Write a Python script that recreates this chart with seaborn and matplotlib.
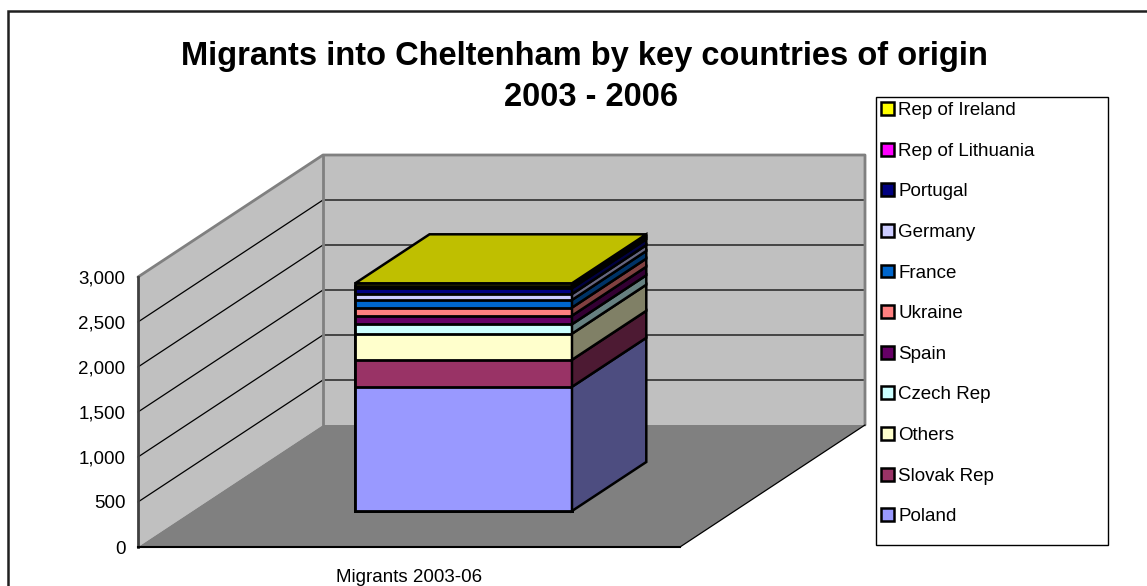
import numpy as np
import pandas as pd
import matplotlib
matplotlib.use("Agg")
import matplotlib.pyplot as plt
import seaborn as sns
from matplotlib.patches import Polygon, Patch, Rectangle
from matplotlib.transforms import Affine2D
from matplotlib.ticker import FuncFormatter

# ---- data (bottom to top of the stack) ----
category = "Migrants 2003-06"
countries = ["Poland", "Slovak Rep", "Others", "Czech Rep", "Spain", "Ukraine",
             "France", "Germany", "Portugal", "Rep of Lithuania", "Rep of Ireland"]
values = [1380, 300, 290, 105, 95, 90, 85, 65, 65, 30, 25]
colors = ["#9999FF", "#993366", "#FFFFCC", "#CCFFFF", "#660066", "#FF8080",
          "#0066CC", "#CCCCFF", "#000080", "#FF00FF", "#FFFF00"]
yticks = [0, 500, 1000, 1500, 2000, 2500, 3000]
title_lines = ["Migrants into Cheltenham by key countries of origin", "2003 - 2006"]

sns.set_style("white")
plt.rcParams["font.family"] = ["Liberation Sans", "DejaVu Sans"]
plt.rcParams["text.color"] = "black"
plt.rcParams["axes.labelcolor"] = "black"
plt.rcParams["xtick.color"] = "black"
plt.rcParams["ytick.color"] = "black"

FS = 13.5

W, H = 1147, 586
fig = plt.figure(figsize=(W / 100, H / 100), dpi=100)
fig.patch.set_facecolor("white")

# front plane of the 3-D box
x0, y0, pw, ph = 138, 547, 542, 270
ax = fig.add_axes([x0 / W, (H - y0) / H, pw / W, ph / H])
ax.patch.set_visible(False)
YMAX = 3000
XMIN, XMAX = -0.5, 0.5

# oblique depth (full depth = 185 px right, 122 px up)
DX = 185 / pw * (XMAX - XMIN)
DY = 122 / ph * YMAX


def P(x, y, f):
    return (x + DX * f, y + DY * f)


wall = "#C0C0C0"
floor = "#808080"
edge_grey = "#808080"

# walls & floor
ax.add_patch(Polygon([P(XMIN, 0, 0), P(XMIN, YMAX, 0), P(XMIN, YMAX, 1), P(XMIN, 0, 1)],
                     closed=True, facecolor=wall, edgecolor="none", zorder=0, clip_on=False))
ax.add_patch(Polygon([P(XMIN, 0, 1), P(XMAX, 0, 1), P(XMAX, YMAX, 1), P(XMIN, YMAX, 1)],
                     closed=True, facecolor=wall, edgecolor="none", zorder=0, clip_on=False))
for yv in yticks[1:-1]:
    xs, ys = zip(P(XMIN, yv, 0), P(XMIN, yv, 1), P(XMAX, yv, 1))
    ax.plot(xs, ys, color="black", lw=0.9, zorder=1, clip_on=False)
# wall outline
xs, ys = zip(P(XMIN, YMAX, 0), P(XMIN, YMAX, 1), P(XMAX, YMAX, 1), P(XMAX, 0, 1))
ax.plot(xs, ys, color=edge_grey, lw=2, zorder=1, clip_on=False)
xs, ys = zip(P(XMIN, 0, 1), P(XMIN, YMAX, 1))
ax.plot(xs, ys, color=edge_grey, lw=2, zorder=1, clip_on=False)
ax.add_patch(Polygon([P(XMIN, 0, 0), P(XMAX, 0, 0), P(XMAX, 0, 1), P(XMIN, 0, 1)],
                     closed=True, facecolor=floor, edgecolor="none", zorder=2, clip_on=False))
xs, ys = zip(P(XMAX, 0, 0), P(XMAX, 0, 1))
ax.plot(xs, ys, color="black", lw=0.9, zorder=2, clip_on=False)

# bar geometry
f1, f2 = 36 / 122, 85 / 122
BW = 0.4
cum = np.cumsum(values)

# front faces via seaborn (draw tallest first, smaller cumulative totals on top)
n_before = len(ax.patches)
for i in range(len(values) - 1, -1, -1):
    df = pd.DataFrame({"period": [category], "value": [cum[i]]})
    sns.barplot(data=df, x="period", y="value", color=colors[i], saturation=1,
                width=BW, edgecolor="black", linewidth=2, ax=ax, zorder=5)
shift = Affine2D().translate(DX * f1, DY * f1) + ax.transData
for p in ax.patches[n_before:]:
    p.set_transform(shift)
    p.set_clip_on(False)


def darker(c, k):
    r, g, b = matplotlib.colors.to_rgb(c)
    return (r * k, g * k, b * k)


# side faces
bottoms = np.concatenate([[0], cum[:-1]])
for b, t, c in zip(bottoms, cum, colors):
    ax.add_patch(Polygon([P(BW / 2, b, f1), P(BW / 2, t, f1), P(BW / 2, t, f2), P(BW / 2, b, f2)],
                         closed=True, facecolor=darker(c, 0.5), edgecolor="black",
                         lw=1.8, zorder=6, clip_on=False, joinstyle="miter"))
# top face
top = cum[-1]
ax.add_patch(Polygon([P(-BW / 2, top, f1), P(BW / 2, top, f1), P(BW / 2, top, f2), P(-BW / 2, top, f2)],
                     closed=True, facecolor=darker(colors[-1], 0.75), edgecolor="black",
                     lw=1.8, zorder=6, clip_on=False, joinstyle="miter"))

# axes styling
ax.set_xlim(XMIN, XMAX)
ax.set_ylim(0, YMAX)
ax.set_yticks(yticks)
ax.yaxis.set_major_formatter(FuncFormatter(lambda v, _: f"{int(v):,}"))
ax.set_xticks([XMIN, XMAX])
ax.set_xticklabels(["", ""])
ax.set_xlabel(category, fontsize=FS, labelpad=5)
ax.set_ylabel("")
ax.tick_params(axis="y", direction="out", length=6, width=1.2, labelsize=FS, pad=3, color="#404040")
ax.tick_params(axis="x", direction="out", length=7, width=1.0, color="#404040")
for s in ["top", "right"]:
    ax.spines[s].set_visible(False)
ax.spines["left"].set_color("#404040")
ax.spines["left"].set_linewidth(2)
ax.spines["bottom"].set_color("black")
ax.spines["bottom"].set_linewidth(1.5)
ax.spines["left"].set_zorder(3)
ax.spines["bottom"].set_zorder(3)

# title
fig.text(584 / W, 1 - 57 / H, title_lines[0], ha="center", va="center",
         fontsize=23.5, fontweight="bold")
fig.text(591 / W, 1 - 98 / H, title_lines[1], ha="center", va="center",
         fontsize=23.5, fontweight="bold")

# legend (top = Rep of Ireland)
handles = [Patch(facecolor=c, edgecolor="black", linewidth=1.8) for c in colors[::-1]]
labels = countries[::-1]
fig.add_artist(Rectangle((876 / W, 1 - 545 / H), (1108 - 876) / W, (545 - 97) / H,
                         transform=fig.transFigure, facecolor="white", edgecolor="black", lw=1))
fig.legend(handles, labels, loc="upper left", bbox_to_anchor=(881 / W, 1 - 102 / H),
           frameon=False, fontsize=FS, labelspacing=1.26, handlelength=0.68,
           handleheight=0.68, handletextpad=0.25, borderpad=0, borderaxespad=0)

# chart border
fig.add_artist(Rectangle((8 / W, -0.1), 1.2, (H - 11) / H + 0.1, transform=fig.transFigure,
                         fill=False, edgecolor="#202020", lw=1.8))

fig.savefig("out.png", dpi=100)
